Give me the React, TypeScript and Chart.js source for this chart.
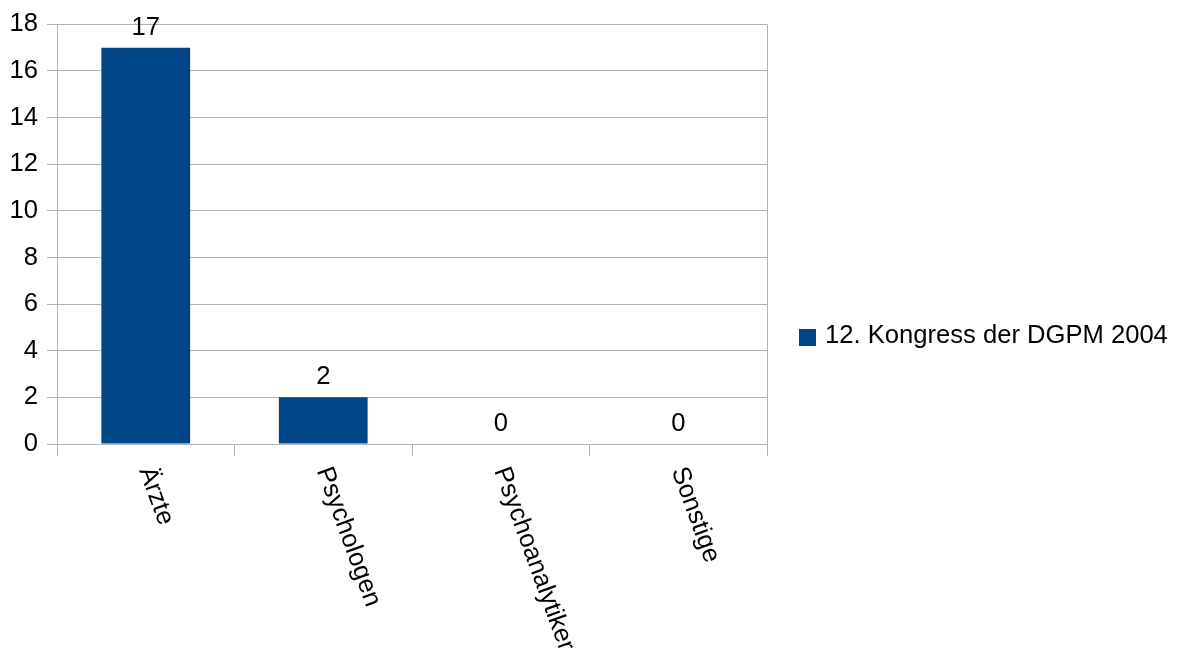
import React, { useEffect, useRef } from "react";
import { Chart, registerables } from "chart.js";

Chart.register(...registerables);

const categories = ["Ärzte", "Psychologen", "Psychoanalytiker", "Sonstige"];
const values = [17, 2, 0, 0];
const seriesName = "12. Kongress der DGPM 2004";
const yMin = 0;
const yMax = 18;
const yStep = 2;

const FONT = "'Liberation Sans', Arial, sans-serif";
const FONT_SIZE = 25.6;
const BAR_COLOR = "#004586";
const GRID = "#b3b3b3";

const overlayPlugin = {
  id: "overlay",
  afterDraw(chart: any) {
    const ctx = chart.ctx;
    const area = chart.chartArea;
    const xs = chart.scales.x;
    ctx.save();
    // right border line
    ctx.strokeStyle = GRID;
    ctx.lineWidth = 1;
    const rx = Math.round(area.right) + 0.5;
    ctx.beginPath();
    ctx.moveTo(rx, area.top);
    ctx.lineTo(rx, area.bottom + 12);
    ctx.stroke();

    // data labels
    ctx.fillStyle = "#000";
    ctx.font = `${FONT_SIZE}px ${FONT}`;
    ctx.textAlign = "center";
    ctx.textBaseline = "alphabetic";
    const meta = chart.getDatasetMeta(0);
    meta.data.forEach((el: any, i: number) => {
      ctx.fillText(String(values[i]), el.x, el.y - 13);
    });

    // rotated category labels
    ctx.textAlign = "left";
    ctx.textBaseline = "middle";
    categories.forEach((c, i) => {
      const x = xs.getPixelForValue(i);
      ctx.save();
      ctx.translate(x, area.bottom + 24);
      ctx.rotate((70 * Math.PI) / 180);
      ctx.fillText(c, 0, 0);
      ctx.restore();
    });

    // legend
    ctx.fillStyle = BAR_COLOR;
    ctx.fillRect(799, 329, 17, 17);
    ctx.fillStyle = "#000";
    ctx.textAlign = "left";
    ctx.textBaseline = "alphabetic";
    ctx.fillText(seriesName, 825, 343);
    ctx.restore();
  },
};

export default function App() {
  const ref = useRef<HTMLCanvasElement | null>(null);
  useEffect(() => {
    document.body.style.margin = "0";
    const canvas = ref.current!;
    const chart = new Chart(canvas, {
      type: "bar",
      data: {
        labels: categories,
        datasets: [
          {
            label: seriesName,
            data: values,
            backgroundColor: BAR_COLOR,
            borderWidth: 0,
            categoryPercentage: 1,
            barPercentage: 0.5,
          },
        ],
      },
      options: {
        responsive: false,
        animation: false,
        events: [],
        layout: { padding: { top: 23, right: 411, bottom: 0, left: 0 } },
        plugins: {
          legend: { display: false },
          tooltip: { enabled: false },
        },
        scales: {
          x: {
            offset: true,
            grid: {
              offset: true,
              drawOnChartArea: false,
              drawTicks: true,
              tickLength: 12,
              color: GRID,
              tickColor: GRID,
            },
            border: { display: true, color: GRID },
            ticks: { display: false },
            afterFit: (s: any) => {
              s.height = 215;
            },
          },
          y: {
            min: yMin,
            max: yMax,
            grid: {
              color: GRID,
              tickColor: GRID,
              tickLength: 10,
              drawTicks: true,
            },
            border: { display: true, color: GRID },
            ticks: {
              stepSize: yStep,
              padding: 9,
              color: "#000",
              font: { family: FONT, size: FONT_SIZE },
            },
            afterFit: (s: any) => {
              s.width = 57;
            },
          },
        },
      },
      plugins: [overlayPlugin],
    });
    return () => chart.destroy();
  }, []);
  return (
    <div style={{ width: 1178, height: 659, background: "#fff" }}>
      <canvas ref={ref} width={1178} height={659} />
    </div>
  );
}
